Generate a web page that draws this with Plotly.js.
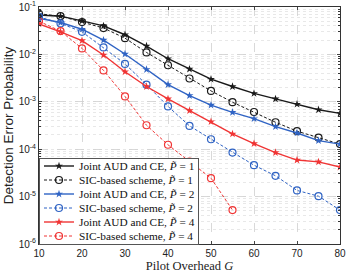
<!DOCTYPE html>
<html><head><meta charset="utf-8">
<script src="https://cdn.plot.ly/plotly-3.0.1.min.js"></script>
<style>html,body{margin:0;padding:0;background:#fff}#chart{width:347px;height:275px}</style>
</head><body><div id="chart"></div>
<script>
var pilotG = [10,15,20,25,30,35,40,45,50,55,60,65,70,75,80];
var jointP1 = [0.068,0.064,0.051,0.040,0.026,0.015,0.0081,0.0049,0.0030,0.0021,0.0015,0.00115,0.00089,0.00068,0.00057];
var sicP1 = [0.072,0.064,0.048,0.036,0.022,0.011,0.0059,0.0031,0.0017,0.00098,0.00061,0.00037,0.00024,0.000175,0.000128];
var jointP2 = [0.058,0.047,0.034,0.020,0.0102,0.0048,0.0023,0.00135,0.00085,0.0006,0.00044,0.0003,0.00022,0.000152,0.000128];
var sicP2 = [0.062,0.045,0.030,0.014,0.0063,0.0023,0.0008,0.00031,0.000162,0.000085,0.000046,0.0000275,0.0000135,0.0000102,0.0000052];
var jointP4 = [0.044,0.030,0.0195,0.0097,0.0043,0.0021,0.00115,0.00065,0.00038,0.00021,0.000131,0.000085,0.000059,0.000054,0.000042];
var sicP4 = [0.050,0.031,0.0134,0.0046,0.0013,0.00032,0.000124,0.000055,0.0000245,0.0000052];
var names = ['Joint AUD and CE, <i>P\u0303</i> = 1','SIC-based scheme, <i>P\u0303</i> = 1',
             'Joint AUD and CE, <i>P\u0303</i> = 2','SIC-based scheme, <i>P\u0303</i> = 2',
             'Joint AUD and CE, <i>P\u0303</i> = 4','SIC-based scheme, <i>P\u0303</i> = 4'];
var yTickVals = [1e-6,1e-5,1e-4,1e-3,1e-2,1e-1];
var yTickText = ['10<sup>-6</sup>','10<sup>-5</sup>','10<sup>-4</sup>','10<sup>-3</sup>','10<sup>-2</sup>','10<sup>-1</sup>'];

var black='#1a1a1a', blue='#2f63c4', red='#f03434';
function tr(y,name,color,joint){
  return {x:pilotG.slice(0,y.length), y:y, name:name, mode:'lines+markers', type:'scatter',
    line:{color:color,width:joint?1.4:1,dash:joint?'solid':'3px,2px'},
    marker:joint?{symbol:'star',size:6,color:color}:{symbol:'circle-open',size:7,color:color,line:{width:1.2,color:color}}};
}
var data=[tr(jointP1,names[0],black,true),tr(sicP1,names[1],black,false),
          tr(jointP2,names[2],blue,true),tr(sicP2,names[3],blue,false),
          tr(jointP4,names[4],red,true),tr(sicP4,names[5],red,false)];
var layout={width:347,height:275,margin:{l:39,r:7,t:7,b:31},
  paper_bgcolor:'#fff',plot_bgcolor:'#fff',
  font:{family:'Liberation Sans, Arial, sans-serif',size:10,color:'#222'},
  showlegend:true,
  legend:{x:0,y:0,xanchor:'left',yanchor:'bottom',bgcolor:'#fff',bordercolor:'#555',borderwidth:1,
    font:{family:'Liberation Serif, Times New Roman, serif',size:11.3,color:'#111'},tracegroupgap:0,itemwidth:30},
  xaxis:{range:[10,80],tickvals:[10,20,30,40,50,60,70,80],ticks:'inside',ticklen:3,
    showline:true,mirror:'ticks',linecolor:'#333',linewidth:1,
    showgrid:true,gridcolor:'#d0d0d0',griddash:'dash',gridwidth:0.8,zeroline:false,
    title:{text:'Pilot Overhead <i>G</i>',standoff:2,font:{family:'Liberation Serif, Times New Roman, serif',size:12.5,color:'#222'}}},
  yaxis:{type:'log',range:[-6,-1],tickvals:yTickVals,ticktext:yTickText,ticks:'inside',ticklen:3,
    showline:true,mirror:'ticks',linecolor:'#333',linewidth:1,automargin:false,
    showgrid:true,gridcolor:'#d0d0d0',griddash:'dash',gridwidth:0.8,zeroline:false,
    minor:{dtick:'D1',showgrid:true,gridcolor:'#e2e2e2',griddash:'dot',ticks:'inside',ticklen:2,tickcolor:'#333'},
    title:{text:'Detection Error Probability',standoff:0,font:{size:13.5,color:'#222'}}}
};
Plotly.newPlot('chart',data,layout,{displayModeBar:false,staticPlot:true}).then(function(gd){
  var sz=gd._fullLayout._size;
  var yt=gd.querySelector('g.g-ytitle text');
  if(yt){
    var cy=sz.t+sz.h/2, cx=12.5;
    yt.setAttribute('x',cx); yt.setAttribute('y',cy);
    yt.setAttribute('transform','rotate(-90,'+cx+','+cy+')');
    yt.setAttribute('text-anchor','middle');
  }
  var rowH=14, pad=1;
  var leg=gd.querySelector('g.legend');
  if(!leg) return;
  var items=leg.querySelectorAll('g.traces');
  var maxW=0;
  items.forEach(function(it,i){
    it.setAttribute('transform','translate(0,'+(pad+rowH/2+i*rowH)+')');
    var t=it.querySelector('text.legendtext');
    if(t){var b=t.getBBox(); var w=b.width+b.x; if(w>maxW)maxW=w;}
  });
  var H=pad*2+rowH*items.length;
  var W=Math.ceil(maxW+3);
  var bg=leg.querySelector('rect.bg');
  if(bg){bg.setAttribute('height',H); bg.setAttribute('width',W);}
  leg.querySelectorAll('clipPath rect, rect.scrollbox-rect').forEach(function(r){r.setAttribute('height',H);r.setAttribute('width',W);});
  gd.querySelectorAll('defs clipPath[id*="legend"] rect').forEach(function(r){r.setAttribute('height',H+2);r.setAttribute('width',W+2);});
  leg.setAttribute('transform','translate('+sz.l+','+(sz.t+sz.h-H)+')');
});
</script></body></html>
